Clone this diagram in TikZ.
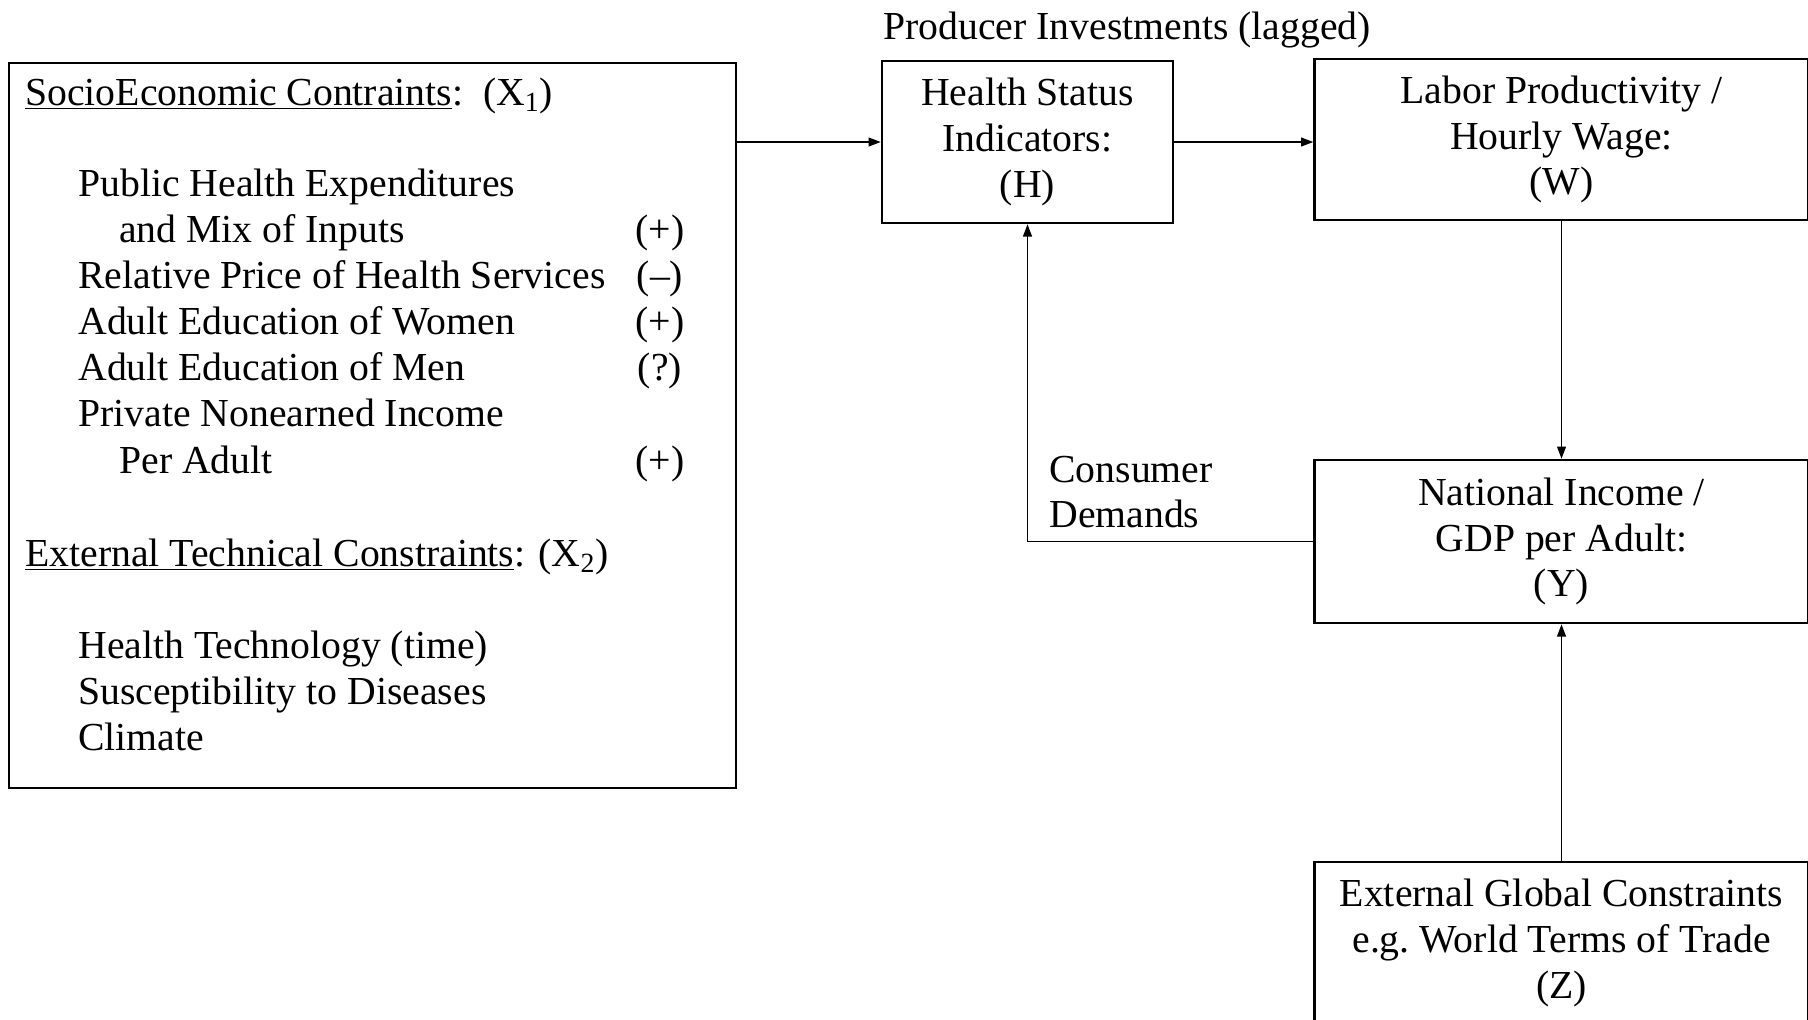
\documentclass[tikz,border=0pt]{standalone}
\usepackage{fontspec}
\setmainfont{Liberation Serif}
\usetikzlibrary{arrows.meta,positioning}

\begin{document}
\begin{tikzpicture}[x=0.02cm,y=-0.02cm,font=\fontsize{22.6}{26}\selectfont,
  box/.style={draw,line width=1.4pt,inner sep=0pt,align=center},
  txt/.style={anchor=west,inner sep=0pt,text height=15pt,text depth=4pt},
  sgn/.style={inner sep=0pt,text height=15pt,text depth=4pt},
  link/.style={line width=1pt,-{Triangle[length=7pt,width=5pt]}}]
\useasboundingbox (0,0) rectangle (1808,1019);
\node[box,minimum width=14.54cm,minimum height=14.5cm] (x) at (372.5,425.5) {};
\node[box,minimum width=5.82cm,minimum height=3.24cm] (h) at (1027.5,142) {Health Status\\Indicators:\\(H)};
\node[box,minimum width=9.88cm,minimum height=3.22cm] (w) at (1561.5,139.5) {Labor Productivity /\\Hourly Wage:\\(W)};
\node[box,minimum width=9.88cm,minimum height=3.26cm] (y) at (1561.5,541.5) {National Income /\\GDP per Adult:\\(Y)};
\node[box,minimum width=9.88cm,minimum height=3.24cm] (z) at (1561.5,943) {External Global Constraints\\e.g.\ World Terms of Trade\\(Z)};
\node[txt] (pi) at (883,30) {Producer Investments (lagged)};
\node[anchor=west,inner sep=0pt,align=left] (cd) at (1049,492) {Consumer\\Demands};
\node[txt] (x1) at (25,96) {\underline{SocioEconomic Contraints}:\ \ (X\textsubscript{1})};
\node[txt] (a1) at (78,187) {Public Health Expenditures};
\node[txt] (a2) at (119,233) {and Mix of Inputs};
\node[txt] (a3) at (78,279) {Relative Price of Health Services};
\node[txt] (a4) at (78,325) {Adult Education of Women};
\node[txt] (a5) at (78,371) {Adult Education of Men};
\node[txt] (a6) at (78,417) {Private Nonearned Income};
\node[txt] (a7) at (119,464) {Per Adult};
\node[sgn] (s2) at (660,233) {(+)};
\node[sgn] (s3) at (660,279) {(–)};
\node[sgn] (s4) at (660,325) {(+)};
\node[sgn] (s5) at (660,371) {(?)};
\node[sgn] (s7) at (660,464) {(+)};
\node[txt] (x2) at (25,557) {\underline{External Technical Constraints}: (X\textsubscript{2})};
\node[txt] (b1) at (78,649) {Health Technology (time)};
\node[txt] (b2) at (78,695) {Susceptibility to Diseases};
\node[txt] (b3) at (78,741) {Climate};
\draw[link] (x.east |- h.west) -- (h.west);
\draw[link] (h.east) -- (h.east -| w.west);
\draw[link] (w.south) -- (y.north);
\draw[link] (y.west) -| (h.south);
\draw[link] (z.north) -- (y.south);
\end{tikzpicture}
\end{document}
